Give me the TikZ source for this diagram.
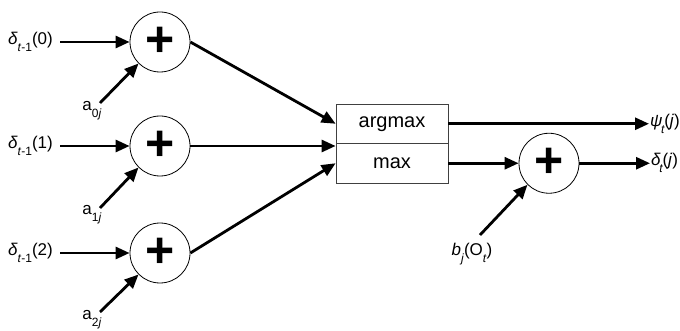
\documentclass[tikz,border=0pt]{standalone}
\usepackage{fontspec}
\setmainfont{Liberation Sans}
\usetikzlibrary{arrows.meta}
\newcommand{\lowsub}[1]{\raisebox{-0.4em}{\fontsize{12}{12}\selectfont #1}}
\begin{document}
\begin{tikzpicture}[x=1pt,y=-1pt,
  sumnode/.style={circle,draw,line width=0.8pt,minimum size=60pt,inner sep=0pt,font=\fontsize{50}{50}\selectfont\bfseries},
  arr/.style={line width=2.8pt,-{Triangle[length=14pt,width=12pt]}},
  lbl/.style={font=\fontsize{17}{19}\selectfont,inner sep=0pt},
  cell/.style={draw=black!75,line width=0.8pt,minimum width=112pt,minimum height=39.5pt,inner sep=0pt,font=\fontsize{20}{21}\selectfont}]
\useasboundingbox (0,0) rectangle (680,331);
% summation nodes
\node[sumnode] (s0) at (160,42) {+};
\node[sumnode] (s1) at (160,146) {+};
\node[sumnode] (s2) at (160,253) {+};
\node[sumnode] (s3) at (549,163.25) {+};
% max box
\node[cell] (am) at (392,123.75) {argmax};
\node[cell] (mx) at (392,163.25) {max};
% input labels
\node[lbl,anchor=east] (d0) at (53,42) {\textit{δ}\lowsub{\textit{t}-1}(0)};
\node[lbl,anchor=east] (d1) at (53,146) {\textit{δ}\lowsub{\textit{t}-1}(1)};
\node[lbl,anchor=east] (d2) at (53,253) {\textit{δ}\lowsub{\textit{t}-1}(2)};
\node[lbl] (a0) at (92,111) {a\lowsub{0\textit{j}}};
\node[lbl] (a1) at (92,215) {a\lowsub{1\textit{j}}};
\node[lbl] (a2) at (92,320) {a\lowsub{2\textit{j}}};
\node[lbl] (b) at (472,254) {\textit{b}\lowsub{\textit{j}}(O\lowsub{\textit{t}})};
% output labels
\node[lbl,anchor=west] (psi) at (650,123.75) {\textit{ψ}\kern-1.5pt\lowsub{\textit{t}}\kern-0.5pt(\textit{j})};
\node[lbl,anchor=west] (dt) at (651,163.25) {\textit{δ}\kern-1.5pt\lowsub{\textit{t}}\kern-0.5pt(\textit{j})};
% free ends
\coordinate (a0s) at (100,103);
\coordinate (a1s) at (100,208);
\coordinate (a2s) at (100,312);
\coordinate (bs) at (480,235);
% connectors
\draw[arr] (d0.east) ++(7,0) -- (s0.west);
\draw[arr] (d1.east) ++(7,0) -- (s1.west);
\draw[arr] (d2.east) ++(7,0) -- (s2.west);
\draw[arr] (a0s) -- (s0.south west);
\draw[arr] (a1s) -- (s1.south west);
\draw[arr] (a2s) -- (s2.south west);
\draw[arr] (s0.east) -- (am.west);
\draw[arr] (s1.east) -- (s1 -| mx.west);
\draw[arr] (s2.east) -- (mx.west);
\draw[arr] (am.east) -- ([xshift=-1pt]psi.west);
\draw[arr] (mx.east) -- (s3.west);
\draw[arr] (s3.east) -- ([xshift=-1pt]dt.west);
\draw[arr] (bs) -- (s3.south west);
\end{tikzpicture}
\end{document}
